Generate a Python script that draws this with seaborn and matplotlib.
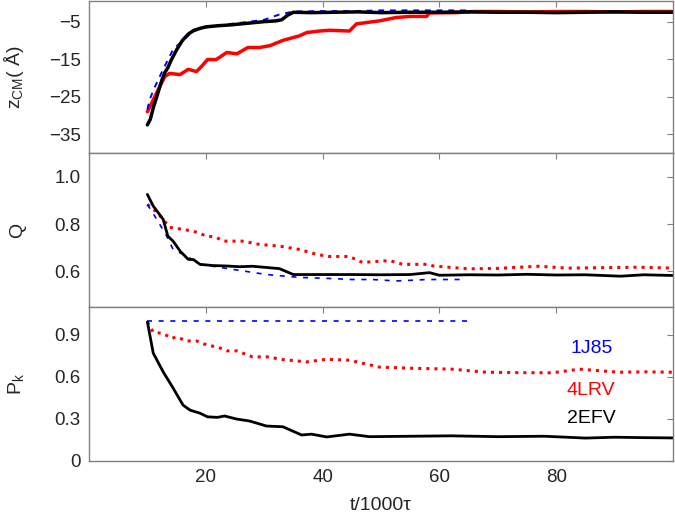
import numpy as np
import pandas as pd
import matplotlib
matplotlib.use("Agg")
import matplotlib.pyplot as plt
import seaborn as sns
from matplotlib.ticker import FuncFormatter

# ---------------- data ----------------
# z_CM (Angstrom)
z_2efv_t = [10, 10.5, 11, 11.5, 12, 12.5, 13, 13.5, 14, 15, 16, 17, 18, 19, 20, 22, 24,
            26, 28, 30, 32, 33, 34, 35, 38, 42, 46, 50, 55, 60, 65, 70, 75, 80, 85, 90, 95, 100]
z_2efv = [-32.5, -31.0, -28.0, -25.5, -23.0, -20.5, -18.5, -17.3, -15.5, -12.5, -10.0, -8.3,
          -7.3, -6.8, -6.4, -6.1, -5.9, -5.6, -5.3, -5.0, -4.8, -4.5, -3.3, -2.5, -2.6, -2.5,
          -2.4, -2.6, -2.5, -2.5, -2.4, -2.5, -2.5, -2.6, -2.5, -2.4, -2.5, -2.5]
z_1j85_t = [10, 10.4, 11.3, 12.7, 14.4, 15.9, 17.5, 19, 22, 26, 30, 32.6, 35, 40, 45, 50, 55, 60, 64.6]
z_1j85 = [-28.4, -25.7, -22.3, -17.7, -12.4, -10.3, -8.0, -6.8, -6.0, -5.3, -4.5, -3.1,
          -2.3, -2.2, -2.2, -2.0, -2.0, -2.0, -2.0]
z_4lrv_t = [10, 11.3, 12.1, 13, 13.8, 15.6, 17, 18.4, 19.3, 20.3, 21.8, 23.6, 25.3, 27.2,
            29.2, 31, 33.2, 36, 37.3, 39.5, 41.2, 44.6, 45.8, 49.7, 52.6, 55, 57.8, 58.3,
            62.9, 66, 70, 75, 80, 85, 90, 95, 100]
z_4lrv = [-29.0, -24.9, -22.3, -19.6, -18.8, -19.1, -17.7, -18.3, -16.9, -15.1, -15.1,
          -13.2, -13.6, -11.9, -11.9, -11.4, -10.0, -8.8, -7.9, -7.5, -7.3, -7.5, -5.6,
          -4.8, -3.9, -3.6, -3.6, -2.7, -2.6, -2.3, -2.3, -2.4, -2.3, -2.3, -2.4, -2.3, -2.3]

# Q
q_2efv_t = [10, 11, 12.7, 13.5, 14.4, 15.6, 17, 17.9, 19, 21.2, 23.6, 25.8, 28, 32.6, 35,
            38.3, 41.7, 45, 50, 55, 58.3, 60, 65, 70, 75, 80, 85, 91, 95, 100]
q_2efv = [0.925, 0.876, 0.820, 0.749, 0.728, 0.686, 0.651, 0.650, 0.630, 0.625, 0.623,
          0.620, 0.622, 0.612, 0.587, 0.587, 0.587, 0.587, 0.586, 0.587, 0.595, 0.584,
          0.586, 0.585, 0.588, 0.585, 0.586, 0.580, 0.586, 0.583]
q_1j85_t = [10, 11.6, 13.3, 14.4, 16.7, 19, 24.6, 30.4, 36, 41.7, 45, 48.5, 52.6, 58, 64.6]
q_1j85 = [0.883, 0.820, 0.750, 0.693, 0.665, 0.630, 0.609, 0.587, 0.575, 0.570, 0.566,
          0.566, 0.560, 0.566, 0.566]
q_4lrv_t = [10, 11.6, 12.7, 13.8, 16, 17.9, 20.1, 21.8, 23, 26.3, 29.2, 32.6, 36, 39,
            41.2, 44.6, 46.8, 51.5, 53.7, 57.8, 59, 65, 70, 77, 82, 88, 94, 100]
q_4lrv = [0.883, 0.850, 0.820, 0.786, 0.778, 0.770, 0.750, 0.744, 0.728, 0.728, 0.714,
          0.707, 0.693, 0.672, 0.663, 0.663, 0.638, 0.646, 0.630, 0.630, 0.623, 0.611,
          0.613, 0.622, 0.614, 0.616, 0.618, 0.614]

# P_k
p_2efv_t = [10, 11, 12.7, 14.4, 16.1, 17.3, 19, 20.3, 22, 23.2, 25.3, 27.5, 30.4, 33.2,
            36.4, 38.1, 40.7, 44.6, 48, 55, 62, 70, 78, 85, 90, 95, 100]
p_2efv = [0.993, 0.770, 0.636, 0.520, 0.398, 0.362, 0.340, 0.314, 0.310, 0.320, 0.298,
          0.284, 0.248, 0.243, 0.184, 0.190, 0.170, 0.190, 0.172, 0.175, 0.178, 0.172,
          0.175, 0.162, 0.168, 0.165, 0.163]
p_1j85_t = [10, 65.4]
p_1j85 = [1.0, 1.0]
p_4lrv_t = [10, 11, 12.7, 14.2, 15, 16.7, 18.4, 20.3, 22, 23.6, 25.3, 28, 30.9, 32.6,
            37.3, 40.7, 44.6, 49.7, 55, 62.2, 68, 74, 79.3, 84, 90.8, 95, 100]
p_4lrv = [0.993, 0.920, 0.910, 0.875, 0.886, 0.857, 0.857, 0.826, 0.814, 0.786, 0.786,
          0.743, 0.743, 0.726, 0.707, 0.726, 0.719, 0.670, 0.662, 0.655, 0.633, 0.630,
          0.629, 0.655, 0.633, 0.636, 0.633]

labels = ["1J85", "4LRV", "2EFV"]
label_colors = ["#0000ff", "#ff0000", "#000000"]
label_y = [0.80, 0.50, 0.305]
label_x = 86

# ---------------- styling ----------------
sns.set_style("white")
plt.rcParams["font.family"] = ["Liberation Sans", "DejaVu Sans"]
plt.rcParams["mathtext.fontset"] = "custom"
plt.rcParams["mathtext.rm"] = "Liberation Sans"
plt.rcParams["mathtext.it"] = "Liberation Sans"

GRAY = "#808080"
TXT = "#262626"

fig = plt.figure(figsize=(6.75, 5.29), dpi=100)
L, R = 89 / 675, 673 / 675
def fy(p):
    return 1 - p / 529
ax1 = fig.add_axes([L, fy(153), R - L, fy(1) - fy(153)])
ax2 = fig.add_axes([L, fy(307), R - L, fy(153) - fy(307)])
ax3 = fig.add_axes([L, fy(460.7), R - L, fy(307) - fy(460.7)])

def df(t, v):
    return pd.DataFrame({"t": t, "v": v})

# top panel
sns.lineplot(data=df(z_4lrv_t, z_4lrv), x="t", y="v", ax=ax1, color="#ff0000", lw=2.5)
sns.lineplot(data=df(z_1j85_t, z_1j85), x="t", y="v", ax=ax1, color="#0000ff", lw=1.4)
ax1.lines[-1].set_dashes([3, 3])
sns.lineplot(data=df(z_2efv_t, z_2efv), x="t", y="v", ax=ax1, color="#000000", lw=2.5)

# middle panel
sns.lineplot(data=df(q_4lrv_t, q_4lrv), x="t", y="v", ax=ax2, color="#ff0000", lw=2.2,
             linestyle=":")
sns.lineplot(data=df(q_1j85_t, q_1j85), x="t", y="v", ax=ax2, color="#0000ff", lw=1.2)
ax2.lines[-1].set_dashes([3, 4])
sns.lineplot(data=df(q_2efv_t, q_2efv), x="t", y="v", ax=ax2, color="#000000", lw=2.0)

# bottom panel
sns.lineplot(data=df(p_4lrv_t, p_4lrv), x="t", y="v", ax=ax3, color="#ff0000", lw=2.2,
             linestyle=":")
sns.lineplot(data=df(p_1j85_t, p_1j85), x="t", y="v", ax=ax3, color="#0000ff", lw=1.2)
ax3.lines[-1].set_dashes([3, 4])
sns.lineplot(data=df(p_2efv_t, p_2efv), x="t", y="v", ax=ax3, color="#000000", lw=2.0)

for lab, c, yv in zip(labels, label_colors, label_y):
    ax3.text(label_x, yv, lab, color=c, fontsize=14, ha="center", va="center")

ax1.set_ylim(-40, 0.5)
ax1.set_yticks([-35, -25, -15, -5])
ax1.yaxis.set_major_formatter(FuncFormatter(lambda v, p: f"{v:.0f}".replace("-", "\u2212")))
ax2.set_ylim(0.45, 1.1)
ax2.set_yticks([0.6, 0.8, 1.0])
ax2.yaxis.set_major_formatter(FuncFormatter(lambda v, p: f"{v:.1f}"))
ax3.set_ylim(0, 1.1)
ax3.set_yticks([0, 0.3, 0.6, 0.9])
ax3.yaxis.set_major_formatter(FuncFormatter(lambda v, p: "0" if abs(v) < 1e-9 else f"{v:.1f}"))

for ax in (ax1, ax2, ax3):
    ax.set_xlim(0, 100)
    ax.set_xticks([20, 40, 60, 80])
    ax.tick_params(direction="in", length=4, width=0.8, color=GRAY, labelsize=13.5,
                   labelcolor=TXT, top=True, right=True, pad=6)
    for s in ax.spines.values():
        s.set_color(GRAY)
        s.set_linewidth(1.0)
    ax.set_xlabel("")
    ax.set_ylabel("")
for ax in (ax1, ax2):
    ax.tick_params(labelbottom=False)

ax1.set_ylabel(r"z$_{\mathrm{CM}}$( Å)", fontsize=14, color=TXT)
ax2.set_ylabel("Q", fontsize=14, color=TXT)
ax3.set_ylabel(r"P$_{\mathrm{k}}$", fontsize=14, color=TXT)
for ax in (ax1, ax2, ax3):
    ax.yaxis.set_label_coords(-0.108, 0.5)
ax3.set_xlabel("t/1000τ", fontsize=14, color=TXT, labelpad=8)

fig.savefig("out.png", dpi=100)
